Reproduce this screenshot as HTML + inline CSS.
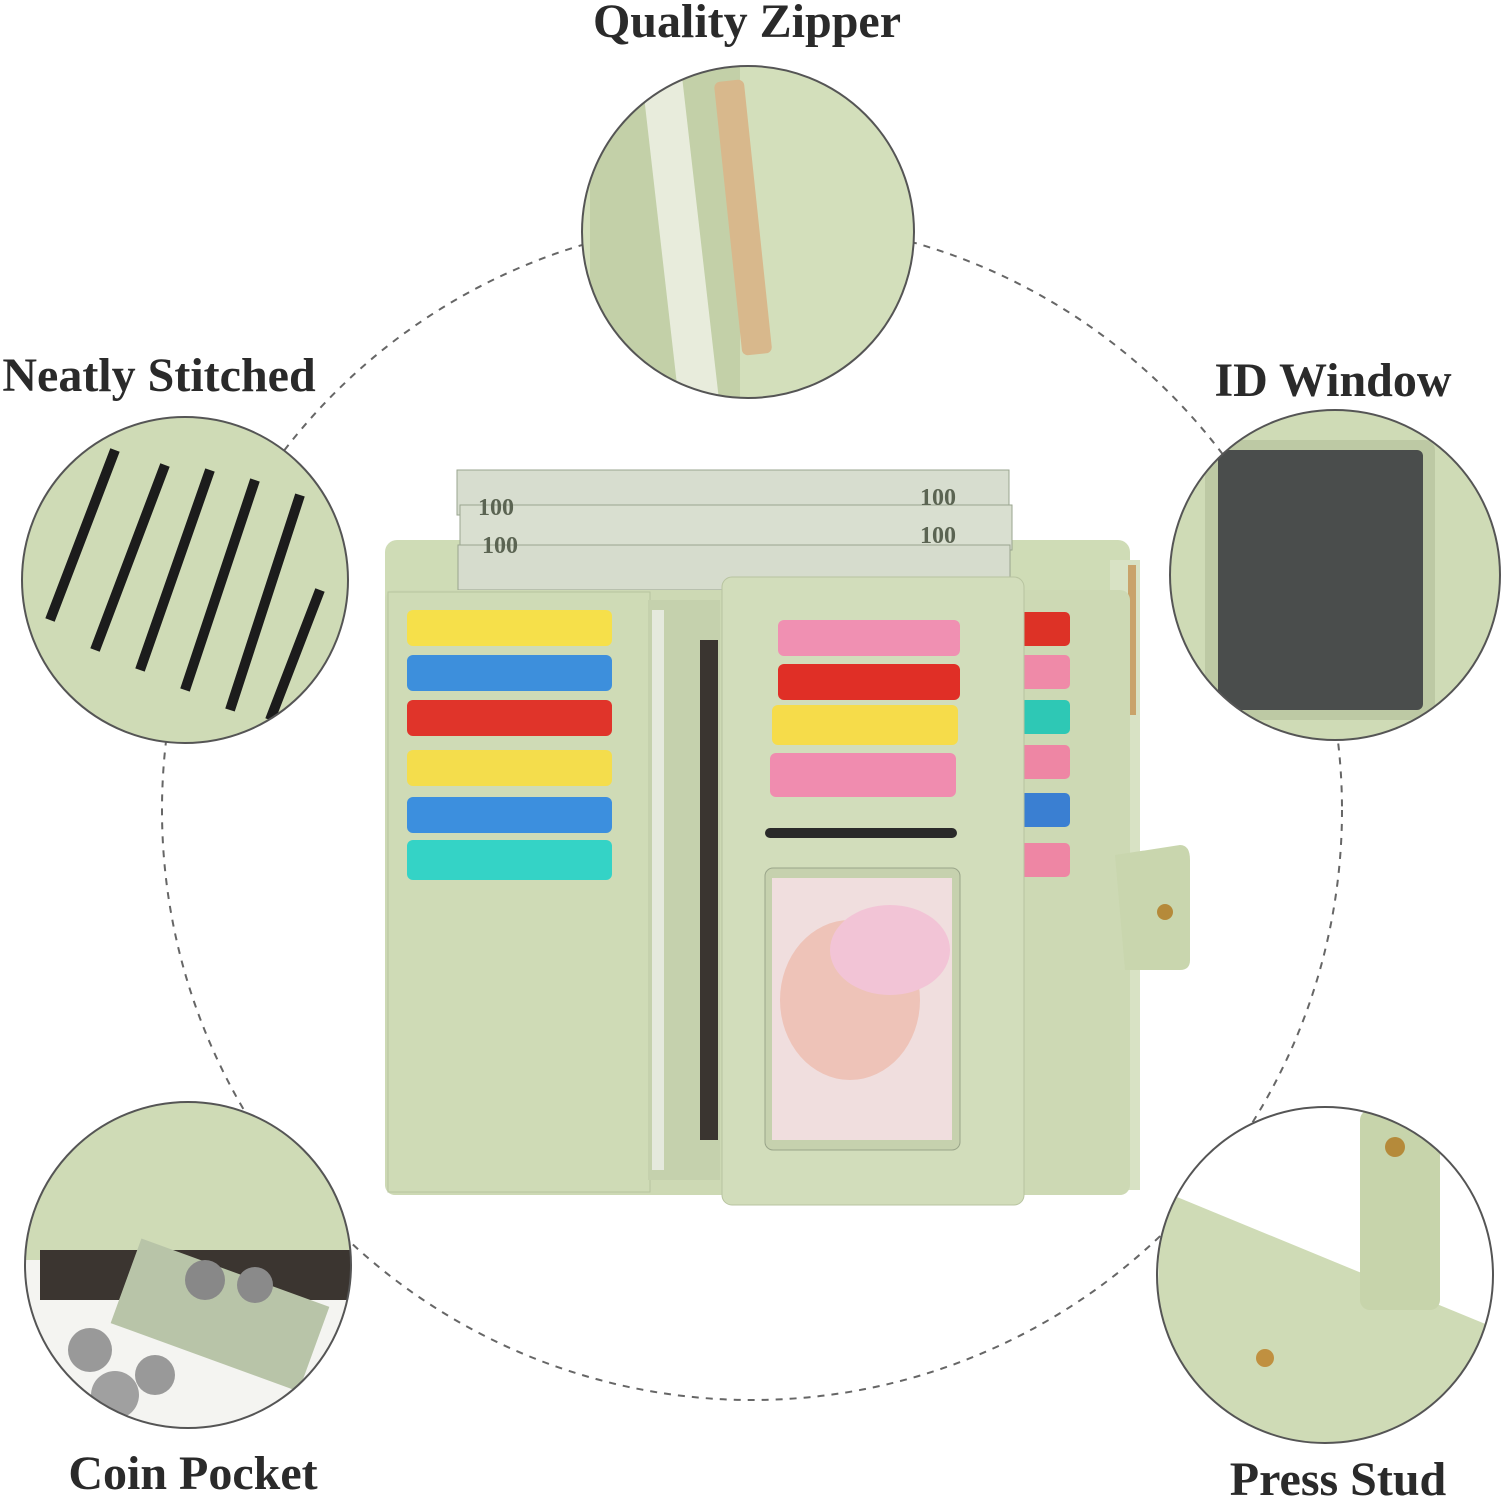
<!DOCTYPE html>
<html><head><style>
html,body{margin:0;padding:0;background:#fff;}
svg{display:block}
text{font-family:"Liberation Serif",serif;font-weight:bold;fill:#2a2a2a;}
</style></head><body>
<svg width="1501" height="1500" viewBox="0 0 1501 1500" xmlns="http://www.w3.org/2000/svg">
<defs>
<clipPath id="c1"><circle cx="748" cy="232" r="166"/></clipPath>
<clipPath id="c2"><circle cx="185" cy="580" r="163"/></clipPath>
<clipPath id="c3"><circle cx="1335" cy="575" r="165"/></clipPath>
<clipPath id="c4"><circle cx="188" cy="1265" r="163"/></clipPath>
<clipPath id="c5"><circle cx="1325" cy="1275" r="168"/></clipPath>
</defs>
<rect width="1501" height="1500" fill="#fff"/>
<circle cx="752" cy="810" r="590" fill="none" stroke="#666" stroke-width="2" stroke-dasharray="7 7"/>

<rect x="385" y="540" width="745" height="655" rx="12" fill="#cfdcb6"/>
<rect x="1110" y="560" width="30" height="630" fill="#d8e2c4"/>
<rect x="1128" y="565" width="8" height="150" fill="#c9a36a"/>
<rect x="457" y="470" width="552" height="45" fill="#d7ddcf" stroke="#9aa58f"/>
<rect x="460" y="505" width="552" height="45" fill="#d9dfd0" stroke="#9aa58f"/>
<rect x="458" y="545" width="552" height="45" fill="#d6dccd" stroke="#9aa58f"/>
<text x="478" y="515" font-size="24" style="fill:#5b6452">100</text>
<text x="920" y="505" font-size="24" style="fill:#5b6452">100</text>
<text x="482" y="553" font-size="24" style="fill:#5b6452">100</text>
<text x="920" y="543" font-size="24" style="fill:#5b6452">100</text>
<rect x="385" y="590" width="745" height="605" rx="10" fill="#cdd9b4"/>
<rect x="388" y="592" width="262" height="600" fill="#cfdbb6" stroke="#b7c49f"/>
<rect x="407" y="610" width="205" height="36" rx="6" fill="#f6e04a"/>
<rect x="407" y="655" width="205" height="36" rx="6" fill="#3d8fdc"/>
<rect x="407" y="700" width="205" height="36" rx="6" fill="#e0342a"/>
<rect x="407" y="750" width="205" height="36" rx="6" fill="#f4dd4c"/>
<rect x="407" y="797" width="205" height="36" rx="6" fill="#3c8fde"/>
<rect x="407" y="840" width="205" height="40" rx="6" fill="#34d3c6"/>
<rect x="648" y="600" width="72" height="580" fill="#c5d1ad"/>
<rect x="652" y="610" width="12" height="560" fill="#e5e9dd"/>
<rect x="700" y="640" width="18" height="500" fill="#3a3530"/>
<rect x="1020" y="612" width="50" height="34" rx="5" fill="#dd3226"/>
<rect x="1020" y="655" width="50" height="34" rx="5" fill="#ef8aa8"/>
<rect x="1020" y="700" width="50" height="34" rx="5" fill="#2ec8b5"/>
<rect x="1020" y="745" width="50" height="34" rx="5" fill="#ee86a4"/>
<rect x="1020" y="793" width="50" height="34" rx="5" fill="#3a7fd2"/>
<rect x="1020" y="843" width="50" height="34" rx="5" fill="#ee86a4"/>
<path d="M1115 855 L1180 845 Q1190 845 1190 860 L1190 960 Q1190 970 1180 970 L1125 970 Z" fill="#c9d6ae"/>
<circle cx="1165" cy="912" r="8" fill="#b58a3a"/>
<rect x="722" y="577" width="302" height="628" rx="10" fill="#d2ddbb" stroke="#b8c4a0"/>
<rect x="778" y="620" width="182" height="36" rx="6" fill="#f090b2"/>
<rect x="778" y="664" width="182" height="36" rx="6" fill="#e02f26"/>
<rect x="772" y="705" width="186" height="40" rx="6" fill="#f6dc4a"/>
<rect x="770" y="753" width="186" height="44" rx="6" fill="#f08caf"/>
<rect x="765" y="828" width="192" height="10" rx="5" fill="#2a2a2a"/>
<rect x="765" y="868" width="195" height="282" rx="8" fill="#c6d1ae" stroke="#9aa58a"/>
<rect x="772" y="878" width="180" height="262" fill="#f0dede"/>
<ellipse cx="850" cy="1000" rx="70" ry="80" fill="#eec3b8"/>
<ellipse cx="890" cy="950" rx="60" ry="45" fill="#f2c4d6"/>

<g clip-path="url(#c1)">
<rect x="580" y="60" width="340" height="350" fill="#d3dfbb"/>
<rect x="590" y="60" width="150" height="350" fill="#c3d0a8"/>
<path d="M660 60 L700 410" stroke="#e8ecdc" stroke-width="40"/>
<rect x="728" y="80" width="30" height="275" rx="6" fill="#d8b88c" transform="rotate(-6 743 217)"/>
</g>
<circle cx="748" cy="232" r="166" fill="none" stroke="#555" stroke-width="2"/>

<g clip-path="url(#c2)">
<rect x="20" y="415" width="330" height="335" fill="#cfdbb6"/>
<path d="M50 620 L115 450 M95 650 L165 465 M140 670 L210 470 M185 690 L255 480 M230 710 L300 495 M270 720 L320 590" stroke="#1c1c1c" stroke-width="10"/>
</g>
<circle cx="185" cy="580" r="163" fill="none" stroke="#555" stroke-width="2"/>

<g clip-path="url(#c3)">
<rect x="1165" y="405" width="340" height="340" fill="#cfdbb6"/>
<rect x="1205" y="440" width="230" height="280" rx="10" fill="#bdc9a4"/>
<rect x="1218" y="450" width="205" height="260" rx="6" fill="#4a4d4c"/>
</g>
<circle cx="1335" cy="575" r="165" fill="none" stroke="#555" stroke-width="2"/>

<g clip-path="url(#c4)">
<rect x="20" y="1100" width="340" height="340" fill="#f4f4f1"/>
<rect x="20" y="1100" width="340" height="160" fill="#cfdbb6"/>
<rect x="40" y="1250" width="320" height="50" fill="#3b3530"/>
<rect x="120" y="1270" width="200" height="90" fill="#b8c4a8" transform="rotate(20 220 1315)"/>
<circle cx="205" cy="1280" r="20" fill="#888"/><circle cx="255" cy="1285" r="18" fill="#8a8a8a"/>
<circle cx="90" cy="1350" r="22" fill="#999"/><circle cx="155" cy="1375" r="20" fill="#999"/><circle cx="115" cy="1395" r="24" fill="#a0a0a0"/>
</g>
<circle cx="188" cy="1265" r="163" fill="none" stroke="#555" stroke-width="2"/>

<g clip-path="url(#c5)">
<rect x="1155" y="1105" width="340" height="340" fill="#fff"/>
<path d="M1160 1190 L1500 1330 L1500 1450 L1155 1450 Z" fill="#cfdbb6"/>
<rect x="1360" y="1110" width="80" height="200" rx="10" fill="#c7d4ab"/>
<circle cx="1395" cy="1147" r="10" fill="#b58a3a"/>
<circle cx="1265" cy="1358" r="9" fill="#c09040"/>
</g>
<circle cx="1325" cy="1275" r="168" fill="none" stroke="#555" stroke-width="2"/>

<text x="747" y="37" font-size="48" text-anchor="middle">Quality Zipper</text>
<text x="159" y="391" font-size="48" text-anchor="middle">Neatly Stitched</text>
<text x="1333" y="396" font-size="48" text-anchor="middle">ID Window</text>
<text x="193" y="1489" font-size="48" text-anchor="middle">Coin Pocket</text>
<text x="1338" y="1495" font-size="48" text-anchor="middle">Press Stud</text>
</svg>
</body></html>
